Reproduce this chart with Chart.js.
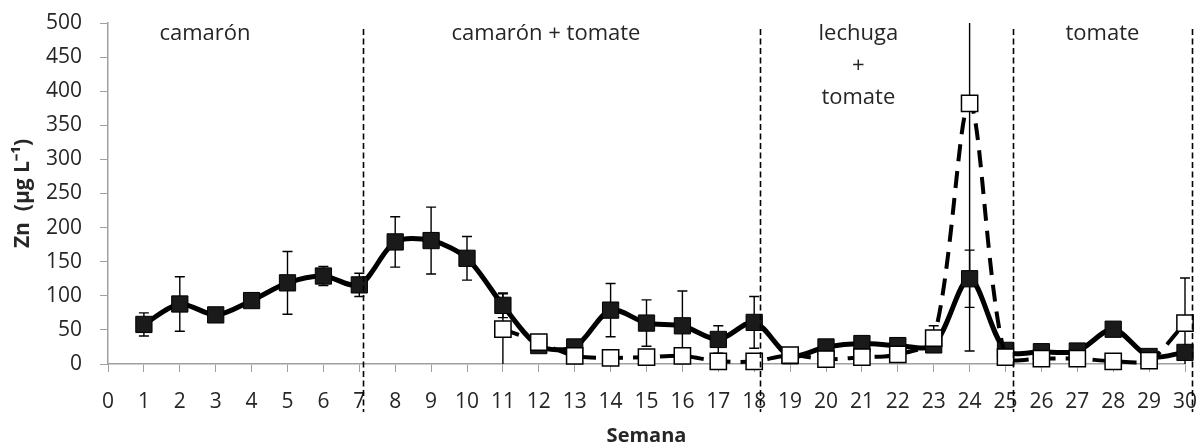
<!DOCTYPE html>
<html>
<head>
<meta charset="utf-8">
<script src="https://cdn.jsdelivr.net/npm/chart.js@4/dist/chart.umd.min.js"></script>
<style>
  html, body { margin: 0; padding: 0; background: #fff; }
  #wrap { width: 1202px; height: 448px; }
</style>
</head>
<body>
<div id="wrap"><canvas id="chart"></canvas></div>
<script>
// semanas del ensayo
const semanas = [1, 2, 3, 4, 5, 6, 7, 8, 9, 10, 11, 12, 13, 14, 15, 16, 17, 18, 19, 20, 21, 22, 23, 24, 25, 26, 27, 28, 29, 30];

// Zn serie con cuadro relleno (linea continua)
const znRelleno = [58, 88, 72, 93, 119, 129, 116, 179, 181, 155, 86, 27, 25, 79, 60, 56, 36, 61, 12, 25, 30, 27, 28, 125, 20, 18, 19, 51, 11, 17];
const errRelleno = [17, 40, 4, 5, 46, 14, 17, 37, 49, 32, 18, 5, 5, 39, 34, 51, 20, 38, 3, 5, 5, 5, 5, 42, 5, 4, 4, 5, 3, 5];

// Zn serie con cuadro abierto (linea discontinua), empieza en la semana 11
const znAbierto = [null, null, null, null, null, null, null, null, null, null, 51, 32, 12, 9, 10, 12, 4, 4, 13, 7, 10, 14, 38, 382, 10, 8, 8, 4, 5, 60];
const errAbierto = [null, null, null, null, null, null, null, null, null, null, 52, 4, 3, 3, 3, 3, 2, 2, 3, 3, 3, 3, 18, 363, 3, 3, 3, 2, 2, 66];

// limites entre etapas (semana)
const cortes = [7.1, 18.15, 25.2, 30.2];

// etapas del cultivo
const etapas = ['camarón', 'camarón + tomate', ['lechuga', '+', 'tomate'], 'tomate'];

const yTicks = [0, 50, 100, 150, 200, 250, 300, 350, 400, 450, 500];

const TXT = '#262626';
const GRIS = '#a0a0a0';
const FONT = "'Open Sans', sans-serif";

const toPoints = (vals) => semanas.map((s, i) => ({ x: s, y: vals[i] }));

// barras de error, dibujadas antes que las lineas y marcadores
const errorBars = {
  id: 'errorBars',
  beforeDatasetsDraw(chart) {
    const { ctx, scales: { x, y } } = chart;
    const sets = [[znRelleno, errRelleno], [znAbierto, errAbierto]];
    ctx.save();
    ctx.strokeStyle = '#000';
    ctx.lineWidth = 1.4;
    sets.forEach(([vals, errs]) => {
      vals.forEach((v, i) => {
        if (v === null || errs[i] === null) return;
        const px = x.getPixelForValue(semanas[i]);
        const hi = Math.min(v + errs[i], y.max);
        const lo = Math.max(v - errs[i], y.min);
        const yHi = y.getPixelForValue(hi);
        const yLo = y.getPixelForValue(lo);
        ctx.beginPath();
        ctx.moveTo(px, yHi);
        ctx.lineTo(px, yLo);
        if (hi < y.max) { ctx.moveTo(px - 5, yHi); ctx.lineTo(px + 5, yHi); }
        if (lo > y.min) { ctx.moveTo(px - 5, yLo); ctx.lineTo(px + 5, yLo); }
        ctx.stroke();
      });
    });
    ctx.restore();
  }
};

// lineas verticales de etapa y textos
const etapasPlugin = {
  id: 'etapas',
  afterDraw(chart) {
    const { ctx, scales: { x, y } } = chart;
    ctx.save();
    ctx.strokeStyle = '#000';
    ctx.lineWidth = 1.6;
    ctx.setLineDash([6, 3.5]);
    cortes.forEach(c => {
      const px = Math.round(x.getPixelForValue(c)) + 0.5;
      ctx.beginPath();
      ctx.moveTo(px, 29);
      ctx.lineTo(px, 412);
      ctx.stroke();
    });
    ctx.setLineDash([]);

    ctx.fillStyle = TXT;
    ctx.font = `22px ${FONT}`;
    ctx.textAlign = 'center';
    ctx.textBaseline = 'middle';
    const posX = [2.7, 12.2, 20.9, 27.7];
    etapas.forEach((t, i) => {
      const px = x.getPixelForValue(posX[i]);
      const lineas = Array.isArray(t) ? t : [t];
      lineas.forEach((l, j) => {
        ctx.fillText(l, px, y.getPixelForValue(484) + j * 32);
      });
    });
    ctx.restore();
  }
};

new Chart(document.getElementById('chart'), {
  type: 'line',
  data: {
    datasets: [
      {
        label: 'relleno',
        data: toPoints(znRelleno),
        borderColor: '#000',
        borderWidth: 5,
        backgroundColor: '#000',
        pointStyle: 'rect',
        pointRadius: 11.5,
        pointBorderWidth: 1,
        pointBackgroundColor: '#1a1a1a',
        pointBorderColor: '#000',
        tension: 0.3,
        clip: false,
        order: 1
      },
      {
        label: 'abierto',
        data: toPoints(znAbierto),
        borderColor: '#000',
        borderWidth: 4,
        borderDash: [17, 10],
        pointStyle: 'rect',
        pointRadius: 11.5,
        pointBorderWidth: 1.5,
        pointBackgroundColor: '#fff',
        pointBorderColor: '#000',
        tension: 0.3,
        clip: false,
        order: 0
      }
    ]
  },
  options: {
    responsive: true,
    maintainAspectRatio: false,
    animation: false,
    layout: { autoPadding: false, padding: { top: 23, right: 17, left: 0, bottom: 0 } },
    plugins: {
      legend: { display: false },
      tooltip: { enabled: false }
    },
    scales: {
      x: {
        type: 'linear',
        min: 0,
        max: 30,
        afterFit: (s) => {
          s.height = 84;
          s.paddingLeft = 0;
          s.paddingRight = 0;
        },
        ticks: {
          stepSize: 1,
          padding: 17,
          color: TXT,
          font: { family: FONT, size: 21 }
        },
        grid: { drawOnChartArea: false, tickLength: 8, color: GRIS },
        border: { color: GRIS, width: 1.5 },
        title: {
          display: true,
          text: 'Semana',
          color: TXT,
          font: { family: FONT, size: 20, weight: 'bold' },
          padding: { top: 0, bottom: 0 }
        }
      },
      y: {
        min: 0,
        max: 500,
        afterFit: (s) => {
          s.width = 108;
          s.paddingTop = 0;
          s.paddingBottom = 0;
        },
        afterBuildTicks: (s) => { s.ticks = yTicks.map(v => ({ value: v })); },
        ticks: {
          padding: 18,
          color: TXT,
          font: { family: FONT, size: 21 }
        },
        grid: { drawOnChartArea: false, tickLength: 8, color: GRIS },
        border: { color: GRIS, width: 1.5 },
        title: {
          display: true,
          text: 'Zn  (µg L⁻¹)',
          color: TXT,
          font: { family: FONT, size: 21, weight: 'bold' },
          padding: { top: 10, bottom: 0 }
        }
      }
    }
  },
  plugins: [errorBars, etapasPlugin]
});
</script>
</body>
</html>
